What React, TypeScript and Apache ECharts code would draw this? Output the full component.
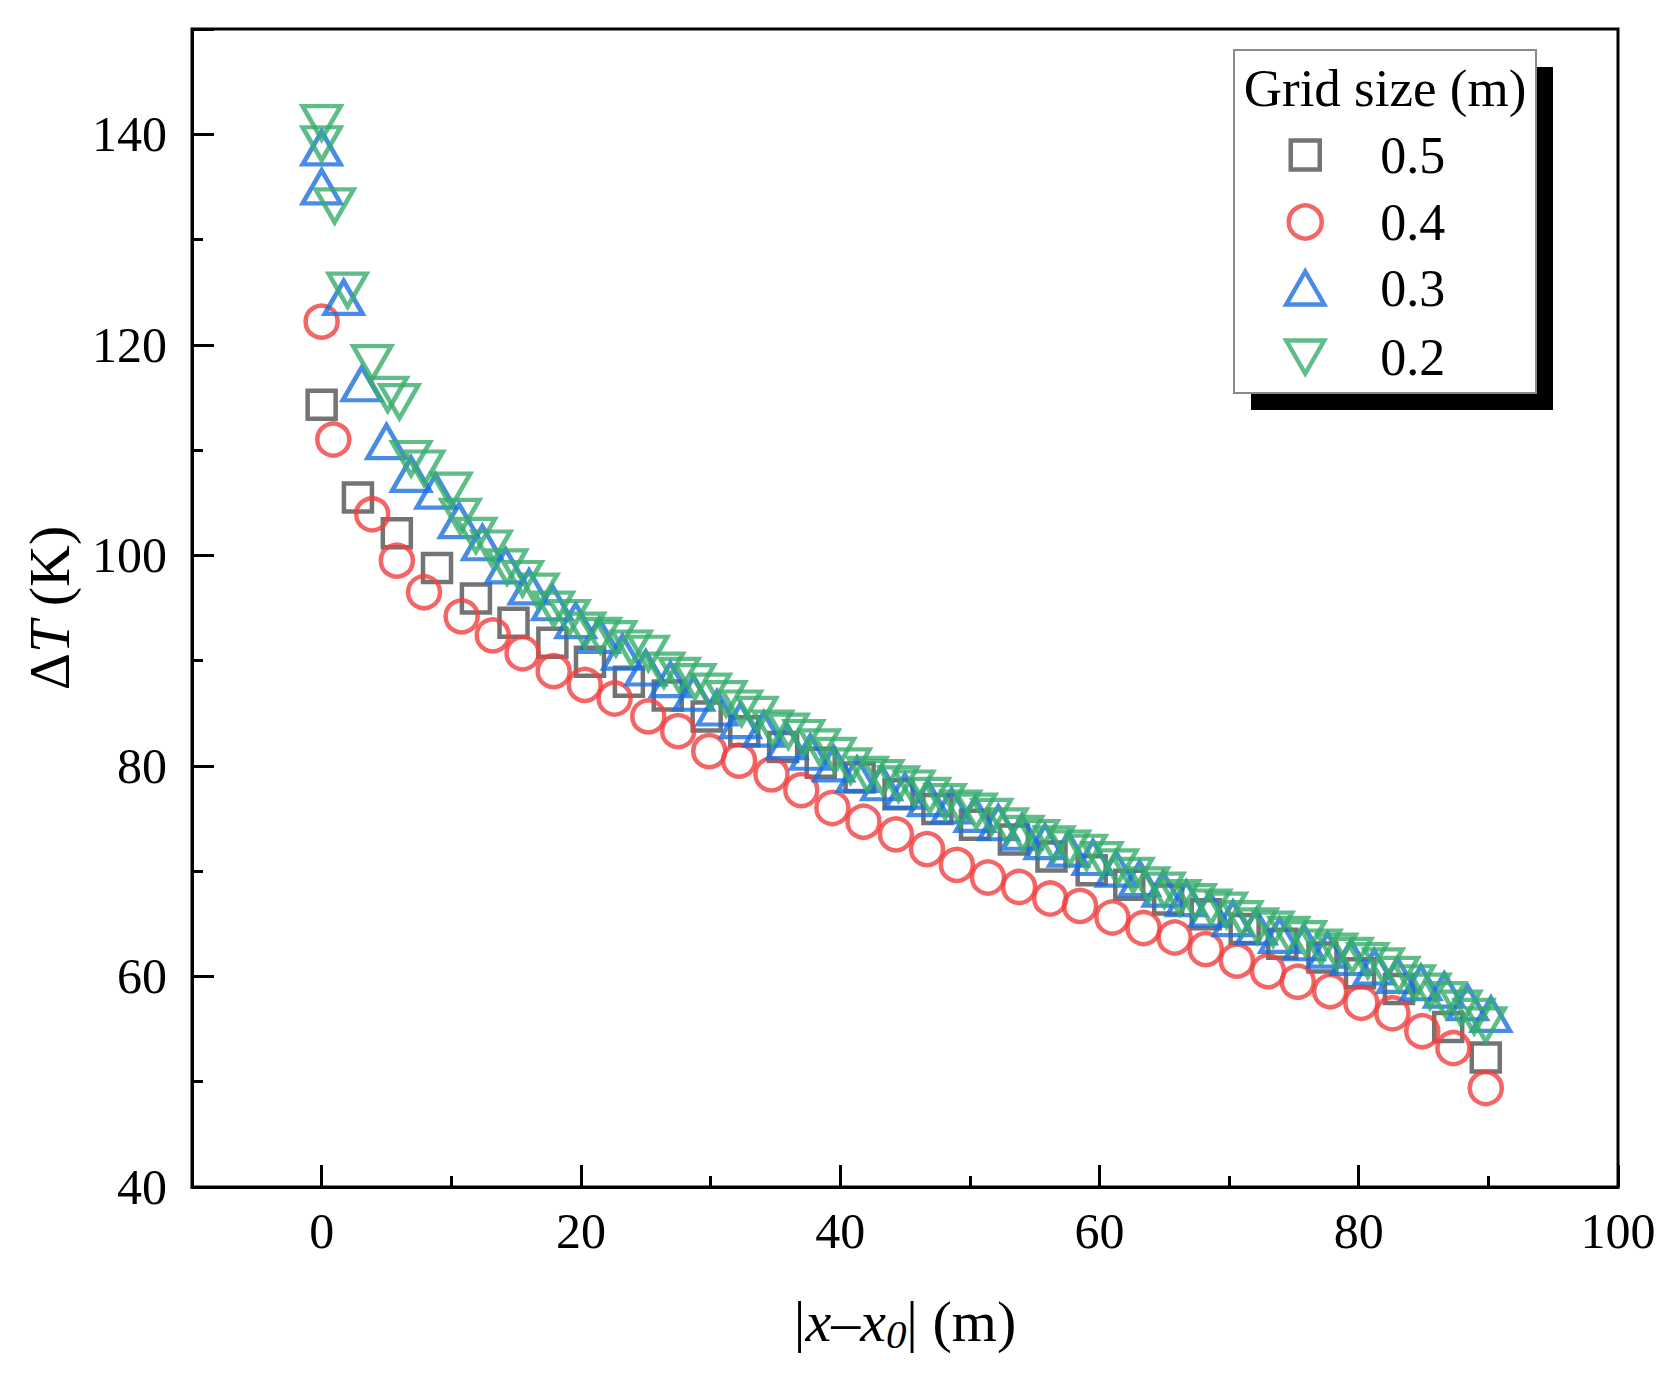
import React, { useEffect, useRef } from "react";
import * as echarts from "echarts";

const FONT = "'Liberation Serif', 'Times New Roman', serif";

const seriesNames = ["0.5", "0.4", "0.3", "0.2"];
const seriesColors = ["#515151", "#F14040", "#1A6FDF", "#37AD6B"];

// Grid size 0.5 m (squares)
const squareX = [0, 2.8, 5.8, 8.9, 11.9, 14.8, 17.8, 20.7, 23.7, 26.7, 29.7, 32.6, 35.6, 38.5, 41.5, 44.5, 47.5, 50.4, 53.4, 56.3, 59.4, 62.3, 65.3, 68.2, 71.2, 74.1, 77.2, 80.1, 83.1, 86.9, 89.8];
const squareY = [114.3, 105.5, 102.1, 98.8, 95.9, 93.6, 91.7, 89.9, 88.0, 86.7, 84.7, 83.3, 81.8, 80.3, 78.9, 77.3, 75.9, 74.4, 73.0, 71.4, 70.1, 68.7, 67.3, 65.9, 64.5, 63.1, 61.8, 60.3, 58.8, 55.2, 52.3];

// Grid size 0.4 m (circles)
const circleX = [0, 0.9, 3.9, 5.8, 7.9, 10.8, 13.2, 15.5, 17.9, 20.3, 22.6, 25.2, 27.5, 29.9, 32.2, 34.7, 37.0, 39.4, 41.8, 44.3, 46.7, 49.0, 51.4, 53.8, 56.2, 58.5, 61.0, 63.4, 65.8, 68.2, 70.6, 73.0, 75.3, 77.8, 80.2, 82.6, 84.9, 87.3, 89.8];
const circleY = [122.2, 111.0, 103.9, 99.5, 96.5, 94.2, 92.4, 90.7, 89.0, 87.7, 86.4, 84.7, 83.3, 81.4, 80.5, 79.2, 77.7, 76.0, 74.7, 73.5, 72.1, 70.6, 69.4, 68.5, 67.4, 66.7, 65.6, 64.6, 63.7, 62.6, 61.5, 60.5, 59.5, 58.6, 57.5, 56.5, 54.8, 53.2, 49.4];

// Grid size 0.3 m (up triangles)
const upX = [0, 0, 1.7, 3.1, 5.0, 6.9, 8.8, 10.6, 12.4, 14.2, 16.0, 17.8, 19.6, 21.4, 23.2, 25.0, 26.9, 28.7, 30.5, 32.3, 34.1, 35.9, 37.7, 39.5, 41.3, 43.2, 45.0, 46.8, 48.6, 50.4, 52.2, 54.0, 55.8, 57.6, 59.5, 61.3, 63.1, 64.9, 66.7, 68.5, 70.3, 72.1, 73.9, 75.8, 77.6, 79.4, 81.2, 83.0, 84.8, 86.6, 88.4, 90.2];
const upY = [138.7, 135.0, 124.5, 116.3, 110.8, 107.7, 106.1, 103.3, 101.2, 99.0, 97.0, 95.5, 93.8, 92.4, 90.8, 89.3, 88.2, 86.9, 85.5, 84.3, 83.5, 82.3, 81.3, 80.2, 79.2, 78.4, 77.6, 76.9, 76.2, 75.4, 74.6, 73.7, 72.8, 72.1, 71.3, 70.2, 69.3, 68.3, 67.4, 66.4, 65.5, 64.7, 63.9, 63.2, 62.5, 61.8, 60.9, 60.1, 59.4, 58.7, 57.5, 56.4];

// Grid size 0.2 m (down triangles)
const downX = [0, 0, 1.0, 2.0, 3.9, 5.1, 6.0, 6.9, 7.9, 10.0, 10.7, 11.9, 13.1, 14.3, 15.5, 16.7, 17.9, 19.1, 20.3, 21.5, 22.7, 23.9, 25.2, 26.4, 27.6, 28.8, 30.0, 31.2, 32.4, 33.6, 34.8, 36.0, 37.2, 38.4, 39.6, 40.8, 42.1, 43.3, 44.5, 45.7, 46.9, 48.1, 49.3, 50.5, 51.7, 52.9, 54.1, 55.3, 56.5, 57.7, 59.0, 60.2, 61.4, 62.6, 63.8, 65.0, 66.2, 67.4, 68.6, 69.8, 71.0, 72.2, 73.4, 74.6, 75.9, 77.1, 78.3, 79.5, 80.7, 81.9, 83.1, 84.3, 85.5, 86.7, 87.9, 88.9, 89.8];
const downY = [141.1, 139.1, 133.2, 125.2, 118.3, 115.3, 114.6, 109.2, 108.3, 106.2, 103.7, 101.9, 100.7, 98.9, 97.8, 96.6, 94.9, 94.1, 92.9, 92.4, 92.1, 91.2, 90.7, 89.1, 88.6, 88.0, 87.1, 86.4, 85.5, 84.9, 83.6, 83.3, 82.7, 81.8, 81.0, 80.0, 79.2, 78.9, 78.3, 77.9, 77.2, 76.6, 76.0, 75.7, 75.2, 74.3, 73.6, 73.2, 72.6, 72.2, 71.8, 71.1, 70.4, 69.6, 68.7, 68.2, 67.5, 67.1, 66.6, 66.3, 65.5, 64.8, 64.5, 64.0, 63.6, 62.8, 62.4, 62.0, 61.5, 61.0, 60.2, 59.4, 58.6, 57.8, 57.0, 56.2, 55.4];

const seriesXs = [squareX, circleX, upX, downX];
const seriesYs = [squareY, circleY, upY, downY];
const seriesSymbols = ["rect", "circle", "triangle", "triangle"];
const seriesRotate = [0, 0, 0, 180];
const seriesSizes: any[] = [28, 32, [38, 33], [38, 33]];

const legendRowCenters = [155, 222, 288, 357];
const legendIconSizes = [[29, 29], [33, 33], [38, 33], [38, 33]];
const legendIcons = ["rect", "circle", "triangle", "path://M0,0L38,0L19,33Z"];
const legendIconCenterX = 1303;
const legendTextLeft = 1378;

export default function App() {
  const ref = useRef<HTMLDivElement>(null);

  useEffect(() => {
    const chart = echarts.init(ref.current!, null, { renderer: "svg" });

    const series = seriesNames.map((name, i) => ({
      type: "scatter",
      name,
      data: seriesXs[i].map((x, j) => [x, seriesYs[i][j]]),
      symbol: seriesSymbols[i],
      symbolSize: seriesSizes[i],
      symbolRotate: seriesRotate[i],
      itemStyle: {
        color: "transparent",
        borderColor: seriesColors[i],
        borderWidth: 4.5,
      },
      emphasis: { disabled: true },
      z: 2 + i,
    }));

    const legends = seriesNames.map((name, i) => {
      const [w, h] = legendIconSizes[i];
      const left = legendIconCenterX - w / 2;
      return {
        data: [{ name, icon: legendIcons[i] }],
        orient: "vertical",
        left,
        top: legendRowCenters[i] - 26,
        itemWidth: w,
        itemHeight: h,
        padding: 0,
        selectedMode: false,
        z: 20,
        itemStyle: { borderWidth: 4.5, borderColor: seriesColors[i], color: "transparent" },
        textStyle: {
          fontFamily: FONT,
          fontSize: 52,
          color: "#000",
          lineHeight: 52,
          padding: [0, 0, 0, legendTextLeft - (left + w + 5)],
        },
      };
    });

    const option: any = {
      animation: false,
      backgroundColor: "#fff",
      grid: {
        left: 192,
        right: 59,
        top: 29,
        bottom: 195,
        show: true,
        borderColor: "#000",
        borderWidth: 3,
        backgroundColor: "transparent",
        containLabel: false,
        outerBoundsMode: "none",
      },
      xAxis: {
        type: "value",
        min: -10,
        max: 100,
        splitNumber: 5,
        name: "{b||}{i|x}{b|–}{i|x}{s|0}{b|| (m)}",
        nameLocation: "middle",
        nameGap: 101,
        nameTextStyle: {
          fontFamily: FONT,
          fontSize: 58,
          color: "#000",
          rich: {
            b: { fontFamily: FONT, fontSize: 58, color: "#000", lineHeight: 66 },
            i: { fontFamily: FONT, fontSize: 58, fontStyle: "italic", color: "#000", lineHeight: 66 },
            s: { fontFamily: FONT, fontSize: 41, fontStyle: "italic", color: "#000", lineHeight: 41, verticalAlign: "bottom" },
          },
        },
        axisLine: { show: true, onZero: false, lineStyle: { color: "#000", width: 3 } },
        axisTick: { show: true, inside: true, length: 22, lineStyle: { color: "#000", width: 3 } },
        minorTick: { show: true, splitNumber: 2, length: 11, lineStyle: { color: "#000", width: 3 } },
        splitLine: { show: false },
        minorSplitLine: { show: false },
        axisLabel: {
          fontFamily: FONT,
          fontSize: 50,
          color: "#000",
          margin: 19,
          showMinLabel: false,
        },
      },
      yAxis: {
        type: "value",
        min: 40,
        max: 150,
        interval: 20,
        name: "{d|Δ}{i|T}{d| (K)}",
        nameLocation: "middle",
        nameGap: 110,
        nameTextStyle: {
          fontFamily: FONT,
          fontSize: 58,
          color: "#000",
          rich: {
            d: { fontFamily: FONT, fontSize: 58, color: "#000", lineHeight: 66 },
            i: { fontFamily: FONT, fontSize: 58, fontStyle: "italic", color: "#000", lineHeight: 66 },
          },
        },
        axisLine: { show: true, onZero: false, lineStyle: { color: "#000", width: 3 } },
        axisTick: { show: true, inside: true, length: 22, lineStyle: { color: "#000", width: 3 } },
        minorTick: { show: true, splitNumber: 2, length: 11, lineStyle: { color: "#000", width: 3 } },
        splitLine: { show: false },
        minorSplitLine: { show: false },
        axisLabel: {
          fontFamily: FONT,
          fontSize: 50,
          color: "#000",
          margin: 25,
          showMaxLabel: false,
        },
      },
      legend: legends,
      graphic: {
        elements: [
          {
            type: "rect",
            z: 10,
            shape: { x: 1251, y: 67, width: 302, height: 343 },
            style: { fill: "#000" },
          },
          {
            type: "rect",
            z: 11,
            shape: { x: 1234, y: 50, width: 302, height: 343 },
            style: { fill: "#fff", stroke: "#8a8a8a", lineWidth: 2 },
          },
          {
            type: "text",
            z: 12,
            x: 1385,
            y: 88,
            style: {
              text: "Grid size (m)",
              fontFamily: FONT,
              fontSize: 53,
              fill: "#000",
              align: "center",
              verticalAlign: "middle",
            },
          },
        ],
      },
      series,
    };

    chart.setOption(option);
    return () => chart.dispose();
  }, []);

  return (
    <div
      ref={ref}
      style={{ position: "absolute", left: 0, top: 0, width: 1677, height: 1382, background: "#fff" }}
    />
  );
}
